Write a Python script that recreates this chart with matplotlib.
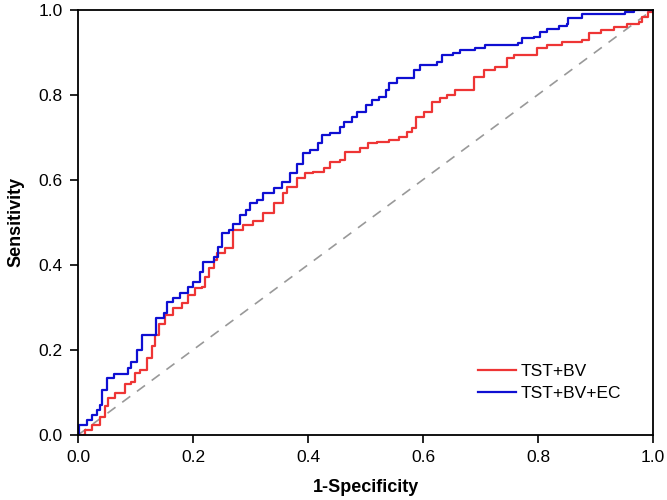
import matplotlib
matplotlib.use("Agg")
import matplotlib.pyplot as plt

plt.rcParams['font.family'] = ['Liberation Sans', 'DejaVu Sans']

# TST+BV (red)
fpr_bv = [0.0, 0.002, 0.013, 0.025, 0.038, 0.047, 0.053, 0.064, 0.076, 0.082, 0.093, 0.099, 0.108,
          0.120, 0.128, 0.134, 0.141, 0.151, 0.166, 0.180, 0.192, 0.203, 0.215, 0.221, 0.227, 0.236,
          0.242, 0.256, 0.270, 0.287, 0.305, 0.322, 0.340, 0.357, 0.363, 0.380, 0.395, 0.409, 0.427,
          0.438, 0.456, 0.465, 0.491, 0.505, 0.520, 0.540, 0.558, 0.572, 0.581, 0.587, 0.601, 0.616,
          0.630, 0.641, 0.656, 0.679, 0.688, 0.706, 0.726, 0.746, 0.758, 0.787, 0.798, 0.816, 0.841,
          0.877, 0.888, 0.909, 0.932, 0.955, 0.975, 0.981, 0.992, 1.0]
tpr_bv = [0.0, 0.0, 0.012, 0.023, 0.043, 0.067, 0.086, 0.098, 0.098, 0.121, 0.125, 0.145, 0.153,
          0.180, 0.208, 0.235, 0.262, 0.282, 0.298, 0.310, 0.329, 0.345, 0.349, 0.372, 0.392, 0.411,
          0.427, 0.439, 0.482, 0.494, 0.502, 0.521, 0.545, 0.568, 0.584, 0.603, 0.615, 0.619, 0.627,
          0.642, 0.646, 0.666, 0.674, 0.686, 0.689, 0.693, 0.701, 0.713, 0.721, 0.748, 0.760, 0.783,
          0.791, 0.799, 0.811, 0.811, 0.842, 0.858, 0.866, 0.885, 0.893, 0.893, 0.909, 0.917, 0.924,
          0.928, 0.944, 0.952, 0.960, 0.966, 0.971, 0.983, 0.995, 1.0]

# TST+BV+EC (blue)
fpr_ec = [0.0, 0.001, 0.016, 0.024, 0.033, 0.038, 0.042, 0.050, 0.062, 0.079, 0.087, 0.093, 0.102,
          0.111, 0.134, 0.136, 0.149, 0.154, 0.166, 0.177, 0.192, 0.200, 0.212, 0.218, 0.230, 0.236,
          0.244, 0.250, 0.262, 0.270, 0.282, 0.293, 0.299, 0.311, 0.322, 0.340, 0.354, 0.369, 0.380,
          0.392, 0.404, 0.418, 0.424, 0.438, 0.456, 0.462, 0.477, 0.485, 0.500, 0.511, 0.523, 0.535,
          0.540, 0.555, 0.575, 0.584, 0.595, 0.624, 0.633, 0.653, 0.665, 0.691, 0.708, 0.735, 0.766,
          0.772, 0.793, 0.804, 0.816, 0.836, 0.850, 0.853, 0.874, 0.877, 0.949, 0.952, 0.967, 1.0]
tpr_ec = [0.0, 0.023, 0.035, 0.047, 0.059, 0.071, 0.106, 0.133, 0.143, 0.143, 0.157, 0.172, 0.200,
          0.235, 0.235, 0.274, 0.286, 0.313, 0.321, 0.333, 0.349, 0.360, 0.384, 0.407, 0.407, 0.419,
          0.443, 0.474, 0.482, 0.497, 0.517, 0.529, 0.545, 0.553, 0.568, 0.580, 0.595, 0.615, 0.638,
          0.662, 0.670, 0.686, 0.705, 0.709, 0.725, 0.736, 0.748, 0.760, 0.776, 0.787, 0.795, 0.811,
          0.827, 0.838, 0.838, 0.858, 0.870, 0.877, 0.893, 0.897, 0.905, 0.909, 0.917, 0.917, 0.922,
          0.932, 0.936, 0.948, 0.955, 0.961, 0.967, 0.979, 0.979, 0.989, 0.989, 0.995, 1.0, 1.0]

ticks = [0.0, 0.2, 0.4, 0.6, 0.8, 1.0]
tick_labels = ["0.0", "0.2", "0.4", "0.6", "0.8", "1.0"]

fig = plt.figure(figsize=(6.67, 5.0), dpi=100)
ax = fig.add_axes([78/667, 65/500, 575/667, 425.5/500])

ax.plot([0, 1], [0, 1], color='#999999', lw=1.2, dashes=(6, 5))
ax.plot(fpr_bv, tpr_bv, color='#EE3535', lw=1.6, drawstyle='steps-post', label='TST+BV')
ax.plot(fpr_ec, tpr_ec, color='#0F0FD2', lw=1.6, drawstyle='steps-post', label='TST+BV+EC')

ax.set_xlim(0, 1)
ax.set_ylim(0, 1)
ax.set_xticks(ticks)
ax.set_xticklabels(tick_labels)
ax.set_yticks(ticks)
ax.set_yticklabels(tick_labels)
ax.tick_params(direction='out', length=6, width=1.2, labelsize=12.5, pad=5, color='black')
for s in ax.spines.values():
    s.set_linewidth(1.3)
    s.set_color('black')

ax.set_xlabel('1-Specificity', fontsize=13, fontweight='bold', labelpad=10)
ax.set_ylabel('Sensitivity', fontsize=13, fontweight='bold', labelpad=10)

ax.legend(loc='lower right', bbox_to_anchor=(0.972, 0.043), frameon=False, fontsize=12.5,
          handlelength=2.2, handletextpad=0.25, labelspacing=0.4)

fig.savefig('out.png', dpi=100)
